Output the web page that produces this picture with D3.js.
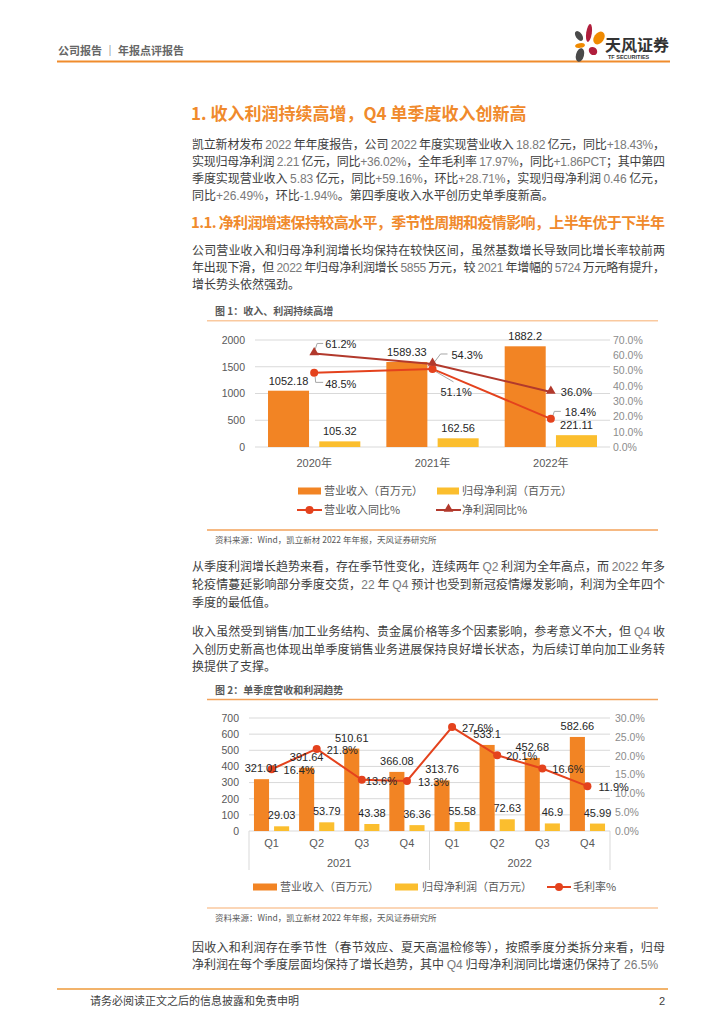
<!DOCTYPE html>
<html><head><meta charset="utf-8">
<script src="https://cdn.jsdelivr.net/npm/d3@7"></script>
<style>body{margin:0;background:#fff}svg{display:block}</style>
</head><body><svg id="page" width="724" height="1024"></svg>
<script>
// ---------- data ----------
const years = ["2020年", "2021年", "2022年"];
const annualRevenue = [1052.18, 1589.33, 1882.2];
const annualNetProfit = [105.32, 162.56, 221.11];
const revenueYoY = [48.5, 51.1, 18.4];
const netProfitYoY = [61.2, 54.3, 36.0];
const annualLeftTicks = [0, 500, 1000, 1500, 2000];
const annualRightTicks = [0, 10, 20, 30, 40, 50, 60, 70];

const quarters = ["Q1", "Q2", "Q3", "Q4", "Q1", "Q2", "Q3", "Q4"];
const quarterYears = ["2021", "2021", "2021", "2021", "2022", "2022", "2022", "2022"];
const quarterRevenue = [321.01, 391.64, 510.61, 366.08, 313.76, 533.1, 452.68, 582.66];
const quarterNetProfit = [29.03, 53.79, 43.38, 36.36, 55.58, 72.63, 46.9, 45.99];
const grossMargin = [16.4, 21.8, 13.6, 13.3, 27.6, 20.1, 16.6, 11.9];
const quarterLeftTicks = [0, 100, 200, 300, 400, 500, 600, 700];
const quarterRightTicks = [0, 5, 10, 15, 20, 25, 30];

const para1 = [
  "凯立新材发布 2022 年年度报告，公司 2022 年度实现营业收入 18.82 亿元，同比+18.43%，",
  "实现归母净利润 2.21 亿元，同比+36.02%，全年毛利率 17.97%，同比+1.86PCT；其中第四",
  "季度实现营业收入 5.83 亿元，同比+59.16%，环比+28.71%，实现归母净利润 0.46 亿元，",
  "同比+26.49%，环比-1.94%。第四季度收入水平创历史单季度新高。"];
const para2 = [
  "公司营业收入和归母净利润增长均保持在较快区间，虽然基数增长导致同比增长率较前两",
  "年出现下滑，但 2022 年归母净利润增长 5855 万元，较 2021 年增幅的 5724 万元略有提升，",
  "增长势头依然强劲。"];
const para3 = [
  "从季度利润增长趋势来看，存在季节性变化，连续两年 Q2 利润为全年高点，而 2022 年多",
  "轮疫情蔓延影响部分季度交货，22 年 Q4 预计也受到新冠疫情爆发影响，利润为全年四个",
  "季度的最低值。"];
const para4 = [
  "收入虽然受到销售/加工业务结构、贵金属价格等多个因素影响，参考意义不大，但 Q4 收",
  "入创历史新高也体现出单季度销售业务进展保持良好增长状态，为后续订单向加工业务转",
  "换提供了支撑。"];
const para5 = [
  "因收入和利润存在季节性（春节效应、夏天高温检修等），按照季度分类拆分来看，归母",
  "净利润在每个季度层面均保持了增长趋势，其中 Q4 归母净利润同比增速仍保持了 26.5%"];

// ---------- styles ----------
const CJK = "'Noto Sans CJK SC', 'Noto Sans', sans-serif";
const LAT = "'Liberation Sans', Arial, 'Noto Sans CJK SC', sans-serif";
const ORANGE = "#F28424", YELLOW = "#FBBE2E", RED = "#E4421D", DARKRED = "#B2392C";
const svg = d3.select("#page");
svg.append("rect").attr("width", 724).attr("height", 1024).attr("fill", "#fff");

// ---------- header ----------
svg.append("text").attr("x", 58).attr("y", 55).text("公司报告 ｜ 年报点评报告")
  .style("font-family", CJK).style("font-size", "11px").style("font-weight", "bold").attr("fill", "#666");
svg.append("line").attr("x1", 57).attr("x2", 670).attr("y1", 61.5).attr("y2", 61.5)
  .attr("stroke", "#F08C2C").attr("stroke-width", 2);
const logo = svg.append("g");
[
  [589, 33, 2.8, 9, 8, "#B01E3C"],
  [579, 36, 3.2, 5.5, -35, "#4a4a4a"],
  [599, 38, 5, 7, 35, "#F08A00"],
  [580, 45.5, 5, 2.4, -10, "#F08A00"],
  [593, 51, 4.5, 3.8, 40, "#B01E3C"],
  [580, 55, 4, 7, 15, "#4a4a4a"]
].forEach(p => logo.append("ellipse").attr("cx", 0).attr("cy", 0).attr("rx", p[2]).attr("ry", p[3])
  .attr("transform", `translate(${p[0]},${p[1]}) rotate(${p[4]})`).attr("fill", p[5]));
logo.append("text").attr("x", 605).attr("y", 51).text("天风证券")
  .style("font-family", CJK).style("font-size", "16px").style("font-weight", "bold").attr("fill", "#333");
logo.append("text").attr("x", 608).attr("y", 59).text("TF SECURITIES")
  .style("font-family", LAT).style("font-size", "5.5px").style("font-weight", "bold").attr("fill", "#333");

// ---------- text helpers ----------
function bodyLine(str, x, cy, width, justify) {
  const t = svg.append("text").attr("x", x).attr("y", cy + 4.4)
    .style("font-family", CJK).style("font-size", "12px").attr("fill", "#3d3d3d");
  str.split(/([0-9A-Za-z.+\-%\/]+)/).forEach((seg, i) => {
    if (!seg) return;
    const ts = t.append("tspan").text(seg);
    if (i % 2 === 1) ts.attr("fill", "#7a7a7a").style("font-family", LAT);
  });
  if (justify) t.attr("textLength", width).attr("lengthAdjust", "spacing");
}
function paragraph(lines, ys) {
  lines.forEach((l, i) => bodyLine(l, 192, ys[i], 473, i < lines.length - 1));
}

svg.append("text").attr("x", 191).attr("y", 119.5).text("1. 收入利润持续高增，Q4 单季度收入创新高")
  .style("font-family", CJK).style("font-size", "17px").style("font-weight", "bold").attr("fill", "#F08A2C");
paragraph(para1, [144.3, 161.7, 179, 195.5]);
svg.append("text").attr("x", 191).attr("y", 228).text("1.1. 净利润增速保持较高水平，季节性周期和疫情影响，上半年优于下半年")
  .attr("textLength", 474).attr("lengthAdjust", "spacing")
  .style("font-family", CJK).style("font-size", "15px").style("font-weight", "bold").attr("fill", "#F08A2C");
paragraph(para2, [251, 268, 285]);
paragraph(para3, [567, 585, 603]);
paragraph(para4, [632, 649.5, 667]);
paragraph(para5, [948, 964.5]);

// ---------- footer ----------
svg.append("line").attr("x1", 57).attr("x2", 668).attr("y1", 989).attr("y2", 989)
  .attr("stroke", "#EE9A3A").attr("stroke-width", 1.5);
svg.append("text").attr("x", 90).attr("y", 1005).text("请务必阅读正文之后的信息披露和免责申明")
  .style("font-family", CJK).style("font-size", "11px").attr("fill", "#404040");
svg.append("text").attr("x", 659).attr("y", 1005).text("2")
  .style("font-family", LAT).style("font-size", "11px").attr("fill", "#404040");

// ---------- chart frame helper ----------
function frame(title, titleY, topY, topColor, botY, botColor, srcY) {
  svg.append("text").attr("x", 215).attr("y", titleY + 3.5).text(title)
    .style("font-family", CJK).style("font-size", "10px").style("font-weight", "bold").attr("fill", "#595959");
  svg.append("line").attr("x1", 207).attr("x2", 658).attr("y1", topY).attr("y2", topY).attr("stroke", topColor).attr("stroke-width", 1.5);
  svg.append("line").attr("x1", 207).attr("x2", 658).attr("y1", botY).attr("y2", botY).attr("stroke", botColor).attr("stroke-width", 1.5);
  svg.append("text").attr("x", 215).attr("y", srcY + 3).text("资料来源：Wind，凯立新材 2022 年年报，天风证券研究所")
    .style("font-family", CJK).style("font-size", "8.5px").attr("fill", "#595959");
}
const pct = d => d3.format(".1f")(d) + "%";
const intFmt = d3.format("d");
function styleAxis(g, color, size) {
  g.select(".domain").remove();
  g.selectAll("text").style("font-family", LAT).style("font-size", size).attr("fill", color);
}

// ---------- chart 1 ----------
frame("图 1：收入、利润持续高增", 311.7, 320.7, "#FAC99F", 530, "#F3A25A", 539.5);
{
  const g = svg.append("g");
  const x = d3.scaleBand().domain(years).range([255, 610]);
  const bw = x.bandwidth();
  const xs = d3.scaleBand().domain(["rev", "np"]).range([bw * 0.11, bw * 0.89]).paddingInner(0.2);
  const y = d3.scaleLinear().domain([0, 2000]).range([447, 340]);
  const yr = d3.scaleLinear().domain([0, 70]).range([447, 340]);

  g.selectAll(".grid").data(annualLeftTicks).join("line")
    .attr("x1", 255).attr("x2", 610).attr("y1", d => y(d)).attr("y2", d => y(d))
    .attr("stroke", "#D9D9D9").attr("stroke-width", 1);
  const la = g.append("g").attr("transform", "translate(255,0)")
    .call(d3.axisLeft(y).tickValues(annualLeftTicks).tickSize(0).tickPadding(10).tickFormat(intFmt));
  styleAxis(la, "#595959", "10.5px");
  const ra = g.append("g").attr("transform", "translate(610,0)")
    .call(d3.axisRight(yr).tickValues(annualRightTicks).tickSize(0).tickPadding(3).tickFormat(pct));
  styleAxis(ra, "#8c8c8c", "10.5px");

  const series = [["rev", annualRevenue, ORANGE], ["np", annualNetProfit, YELLOW]];
  series.forEach(([k, vals, c]) => {
    g.selectAll(".b" + k).data(vals).join("rect")
      .attr("x", (d, i) => x(years[i]) + xs(k)).attr("width", xs.bandwidth())
      .attr("y", d => y(d)).attr("height", d => y(0) - y(d)).attr("fill", c);
    g.selectAll(".l" + k).data(vals).join("text")
      .attr("x", (d, i) => x(years[i]) + xs(k) + xs.bandwidth() / 2).attr("y", d => y(d) - 6)
      .attr("text-anchor", "middle").text(d => d)
      .style("font-family", LAT).style("font-size", "11px").attr("fill", "#262626");
  });

  g.selectAll(".xl").data(years).join("text")
    .attr("x", d => x(d) + bw / 2).attr("y", 467).attr("text-anchor", "middle").text(d => d)
    .style("font-family", LAT).style("font-size", "11px").attr("fill", "#595959");

  // label layout (offsets from point; leader polylines)
  const revLayout = [
    { dx: 11, dy: 11, leader: [[1, 4], [1.5, 9.5], [9, 9.5]] },
    { dx: 8, dy: 23, leader: [[2, 2], [21, 13]] },
    { dx: 14, dy: -7, leader: [[2, -3], [3.5, -7.5], [10, -7.5]] }];
  const npLayout = [
    { dx: 11, dy: -9.5, leader: [[1, -4], [3, -10], [9, -10]] },
    { dx: 19, dy: -9, leader: [[2, -2], [8, -10], [15, -10]] },
    { dx: 10, dy: 0, leader: null }];

  const lines = [
    [revenueYoY, RED, "circle", revLayout],
    [netProfitYoY, DARKRED, "triangle", npLayout]];
  lines.forEach(([vals, c, shape, layout]) => {
    const pts = vals.map((v, i) => [x(years[i]) + bw / 2, yr(v)]);
    pts.forEach((p, i) => {
      const L = layout[i];
      if (L.leader) {
        g.append("polyline").attr("points", L.leader.map(q => [p[0] + q[0], p[1] + q[1]].join(",")).join(" "))
          .attr("fill", "none").attr("stroke", "#A6A6A6").attr("stroke-width", 1);
      }
    });
    g.append("path").datum(pts).attr("d", d3.line()).attr("fill", "none").attr("stroke", c).attr("stroke-width", 2);
    pts.forEach((p, i) => {
      if (shape === "circle") g.append("circle").attr("cx", p[0]).attr("cy", p[1]).attr("r", 4).attr("fill", c);
      else g.append("path").attr("d", d3.symbol(d3.symbolTriangle, 40)()).attr("transform", `translate(${p[0]},${p[1] - 1})`).attr("fill", c);
      const L = layout[i];
      g.append("text").attr("x", p[0] + L.dx).attr("y", p[1] + L.dy + 4).text(pct(vals[i]))
        .style("font-family", LAT).style("font-size", "11px").attr("fill", "#262626");
    });
  });

  // legend
  const lg = svg.append("g").style("font-family", CJK).style("font-size", "11px");
  lg.append("rect").attr("x", 298).attr("y", 487.5).attr("width", 23).attr("height", 7).attr("fill", ORANGE);
  lg.append("text").attr("x", 324).attr("y", 495).text("营业收入（百万元）").attr("fill", "#595959");
  lg.append("rect").attr("x", 437).attr("y", 487.5).attr("width", 22).attr("height", 7).attr("fill", YELLOW);
  lg.append("text").attr("x", 462).attr("y", 495).text("归母净利润（百万元）").attr("fill", "#595959");
  lg.append("line").attr("x1", 297).attr("x2", 322).attr("y1", 510).attr("y2", 510).attr("stroke", RED).attr("stroke-width", 2);
  lg.append("circle").attr("cx", 309.5).attr("cy", 510).attr("r", 4).attr("fill", RED);
  lg.append("text").attr("x", 324).attr("y", 514).text("营业收入同比%").attr("fill", "#595959");
  lg.append("line").attr("x1", 436).attr("x2", 461).attr("y1", 510).attr("y2", 510).attr("stroke", DARKRED).attr("stroke-width", 2);
  lg.append("path").attr("d", d3.symbol(d3.symbolTriangle, 40)()).attr("transform", "translate(448.5,509)").attr("fill", DARKRED);
  lg.append("text").attr("x", 462).attr("y", 514).text("净利润同比%").attr("fill", "#595959");
}

// ---------- chart 2 ----------
frame("图 2：单季度营收和利润趋势", 690, 699.5, "#F3A25A", 908, "#FAC99F", 917.5);
{
  const g = svg.append("g");
  const keys = quarters.map((q, i) => quarterYears[i] + q);
  const x = d3.scaleBand().domain(keys).range([249, 610]);
  const bw = x.bandwidth();
  const xs = d3.scaleBand().domain(["rev", "np"]).range([bw * 0.11, bw * 0.89]).paddingInner(0.25);
  const y = d3.scaleLinear().domain([0, 700]).range([831, 718]);
  const yr = d3.scaleLinear().domain([0, 30]).range([831, 718]);

  g.selectAll(".grid").data(quarterLeftTicks).join("line")
    .attr("x1", 249).attr("x2", 610).attr("y1", d => y(d)).attr("y2", d => y(d))
    .attr("stroke", "#D9D9D9").attr("stroke-width", 1);
  const la = g.append("g").attr("transform", "translate(249,0)")
    .call(d3.axisLeft(y).tickValues(quarterLeftTicks).tickSize(0).tickPadding(10).tickFormat(intFmt));
  styleAxis(la, "#595959", "10.5px");
  const ra = g.append("g").attr("transform", "translate(610,0)")
    .call(d3.axisRight(yr).tickValues(quarterRightTicks).tickSize(0).tickPadding(5).tickFormat(pct));
  styleAxis(ra, "#8c8c8c", "10.5px");

  // two-level category axis
  const yearGroups = Array.from(new Set(quarterYears));
  const bounds = [249];
  yearGroups.forEach(yg => { const last = keys.filter(k => k.startsWith(yg)).slice(-1)[0]; bounds.push(x(last) + bw); });
  bounds.forEach(b => g.append("line").attr("x1", b).attr("x2", b).attr("y1", 831).attr("y2", 870).attr("stroke", "#D9D9D9"));
  g.selectAll(".ql").data(keys).join("text")
    .attr("x", d => x(d) + bw / 2).attr("y", 847).attr("text-anchor", "middle").text((d, i) => quarters[i])
    .style("font-family", LAT).style("font-size", "11px").attr("fill", "#595959");
  yearGroups.forEach((yg, i) => g.append("text").attr("x", (bounds[i] + bounds[i + 1]) / 2).attr("y", 867)
    .attr("text-anchor", "middle").text(yg).style("font-family", LAT).style("font-size", "11px").attr("fill", "#595959"));

  const series = [["rev", quarterRevenue, ORANGE], ["np", quarterNetProfit, YELLOW]];
  series.forEach(([k, vals, c]) => {
    g.selectAll(".b" + k).data(vals).join("rect")
      .attr("x", (d, i) => x(keys[i]) + xs(k)).attr("width", xs.bandwidth())
      .attr("y", d => y(d)).attr("height", d => y(0) - y(d)).attr("fill", c);
  });

  const pts = grossMargin.map((v, i) => [x(keys[i]) + bw / 2, yr(v)]);
  g.append("path").datum(pts).attr("d", d3.line()).attr("fill", "none").attr("stroke", RED).attr("stroke-width", 2);
  pts.forEach(p => g.append("circle").attr("cx", p[0]).attr("cy", p[1]).attr("r", 4).attr("fill", RED));

  series.forEach(([k, vals]) => {
    g.selectAll(".l" + k).data(vals).join("text")
      .attr("x", (d, i) => x(keys[i]) + xs(k) + xs.bandwidth() / 2).attr("y", d => y(d) - 7)
      .attr("text-anchor", "middle").text(d => d)
      .style("font-family", LAT).style("font-size", "11px").attr("fill", "#262626");
  });
  const marginLabelDx = [12, 10, 4, 11, 10, 9, 10, 11];
  pts.forEach((p, i) => g.append("text").attr("x", p[0] + marginLabelDx[i]).attr("y", p[1] + 5).text(pct(grossMargin[i]))
    .style("font-family", LAT).style("font-size", "11px").attr("fill", "#262626"));

  const lg = svg.append("g").style("font-family", CJK).style("font-size", "11px");
  lg.append("rect").attr("x", 253).attr("y", 883.5).attr("width", 24).attr("height", 7).attr("fill", ORANGE);
  lg.append("text").attr("x", 280).attr("y", 891).text("营业收入（百万元）").attr("fill", "#595959");
  lg.append("rect").attr("x", 395).attr("y", 883.5).attr("width", 23).attr("height", 7).attr("fill", YELLOW);
  lg.append("text").attr("x", 422).attr("y", 891).text("归母净利润（百万元）").attr("fill", "#595959");
  lg.append("line").attr("x1", 547).attr("x2", 571).attr("y1", 887).attr("y2", 887).attr("stroke", RED).attr("stroke-width", 2);
  lg.append("circle").attr("cx", 559).attr("cy", 887).attr("r", 4).attr("fill", RED);
  lg.append("text").attr("x", 573).attr("y", 891).text("毛利率%").attr("fill", "#595959");
}
</script></body></html>
